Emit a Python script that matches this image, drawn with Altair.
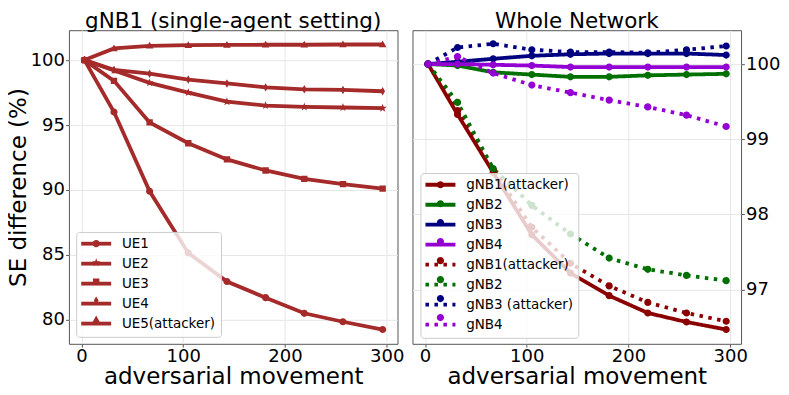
import altair as alt
import pandas as pd

# ---------------- data ----------------
x_vals = [3, 32, 67, 105, 143, 181, 219, 257, 296]

ue_labels = ["UE1", "UE2", "UE3", "UE4", "UE5(attacker)"]
ue1 = [100.0, 96.0, 89.9, 85.15, 82.95, 81.7, 80.5, 79.85, 79.25]
ue2 = [100.0, 99.2, 98.25, 97.5, 96.8, 96.5, 96.4, 96.35, 96.3]
ue3 = [100.0, 98.4, 95.2, 93.6, 92.35, 91.5, 90.85, 90.45, 90.1]
ue4 = [100.0, 99.25, 98.95, 98.5, 98.2, 97.9, 97.75, 97.7, 97.6]
ue5 = [100.0, 100.9, 101.1, 101.15, 101.17, 101.18, 101.18, 101.2, 101.2]

# legend labels (trailing spaces keep repeated names distinct)
gnb_labels = ["gNB1(attacker)", "gNB2", "gNB3", "gNB4",
              "gNB1(attacker) ", "gNB2 ", "gNB3 (attacker)", "gNB4 "]
gnb1_solid = [100.0, 99.33, 98.56, 97.73, 97.22, 96.92, 96.69, 96.57, 96.47]
gnb2_solid = [100.0, 99.98, 99.89, 99.86, 99.83, 99.83, 99.85, 99.86, 99.87]
gnb3_solid = [100.0, 100.03, 100.07, 100.11, 100.13, 100.14, 100.14, 100.14, 100.12]
gnb4_solid = [100.0, 100.0, 99.99, 99.98, 99.96, 99.96, 99.96, 99.96, 99.96]
gnb1_dot = [100.0, 99.38, 98.6, 97.83, 97.35, 97.05, 96.83, 96.69, 96.58]
gnb2_dot = [100.0, 99.49, 98.61, 98.12, 97.74, 97.42, 97.27, 97.19, 97.12]
gnb3_dot = [100.0, 100.22, 100.27, 100.19, 100.16, 100.16, 100.15, 100.19, 100.24]
gnb4_dot = [100.0, 100.1, 99.88, 99.72, 99.62, 99.52, 99.43, 99.32, 99.17]

x_ticks = [0, 100, 200, 300]
left_y_ticks = [80, 85, 90, 95, 100]
right_y_ticks = [97, 98, 99, 100]

# ---------------- styles ----------------
FONT = "DejaVu Sans"
BROWN = "#a52a2a"
gnb_colors = ["#8b0000", "#007000", "#000080", "#9400d3"] * 2
gnb_dashes = [[1, 0]] * 4 + [[3.5, 5.5]] * 4

INV = "M-4.2,0L4.2,0"  # invisible (unstroked) extent, keeps legend bounds equal
circle_p = "M0.9,0A0.9,0.9 0 1,1 -0.9,0A0.9,0.9 0 1,1 0.9,0Z"
star_p = ("M0,-1.1L0.265,-0.364L1.046,-0.34L0.428,0.139L0.647,0.89L0,0.45"
          "L-0.647,0.89L-0.428,0.139L-1.046,-0.34L-0.265,-0.364Z")
square_p = "M-0.8,-0.8H0.8V0.8H-0.8Z"
thin_diamond_p = "M0,-1.05L0.6,0L0,1.05L-0.6,0Z"
tri_up_p = "M0,-1L0.95,0.7L-0.95,0.7Z"
ue_markers = [INV + p for p in [circle_p, star_p, square_p, thin_diamond_p, tri_up_p]]
line_sym = "M-3.75,0L3.75,0"

# ---------------- tables ----------------
ue_series = [ue1, ue2, ue3, ue4, ue5]
left_rows = []
for i, (lab, ys) in enumerate(zip(ue_labels, ue_series)):
    for xv, yv in zip(x_vals, ys):
        left_rows.append({"x": xv, "y": yv, "ue": lab, "pk": f"p{i+1}"})
left_df = pd.DataFrame(left_rows)

gnb_series = [gnb1_solid, gnb2_solid, gnb3_solid, gnb4_solid,
              gnb1_dot, gnb2_dot, gnb3_dot, gnb4_dot]
right_rows = []
for i, (lab, ys) in enumerate(zip(gnb_labels, gnb_series)):
    for xv, yv in zip(x_vals, ys):
        right_rows.append({"x": xv, "y": yv, "key": lab, "pk": f"q{i+1}"})
right_df = pd.DataFrame(right_rows)

ue_pkeys = [f"p{i+1}" for i in range(5)]
gnb_pkeys = [f"q{i+1}" for i in range(8)]


def legend_a(lx, ly):
    return alt.Legend(orient="none", legendX=lx, legendY=ly, title=None,
                      symbolType=line_sym, symbolSize=64, symbolStrokeWidth=3.8,
                      symbolOffset=8.25, labelOffset=19,
                      labelFont=FONT, labelFontSize=13.5, labelColor="black",
                      fillColor="rgba(255,255,255,0.8)", strokeColor="#cccccc",
                      cornerRadius=3, padding=5, rowPadding=4, zindex=1)


def legend_b(lx, ly):
    return alt.Legend(orient="none", legendX=lx, legendY=ly, title=None,
                      symbolSize=64, symbolStrokeWidth=0, symbolOpacity=1,
                      symbolOffset=8.25, labelOffset=19, labelExpr="' '",
                      labelFont=FONT, labelFontSize=13.5, labelOpacity=0,
                      padding=5, rowPadding=4, zindex=2)


x_scale = alt.Scale(domain=[-12.3, 310.6], nice=False, zero=False)
x_axis = alt.Axis(values=x_ticks, title="adversarial movement", labelPadding=0.3)

title_common = dict(fontSize=21.5, font=FONT, fontWeight="normal", color="black",
                    baseline="alphabetic", offset=-19, anchor="middle")

# ---------------- left panel ----------------
ly = alt.Y("y:Q", scale=alt.Scale(domain=[78.15, 102.3], nice=False, zero=False),
           axis=alt.Axis(values=left_y_ticks, title="SE difference (%)", titlePadding=0))
lx = alt.X("x:Q", scale=x_scale, axis=x_axis)

left_lines = alt.Chart(left_df).mark_line(strokeWidth=3.8).encode(
    x=lx, y=ly,
    color=alt.Color("ue:N", scale=alt.Scale(domain=ue_labels, range=[BROWN] * 5),
                    legend=legend_a(7.3, 202)),
)
left_pts = alt.Chart(left_df).mark_point(filled=True, size=64, opacity=1, color=BROWN).encode(
    x=lx, y=ly,
    shape=alt.Shape("pk:N", scale=alt.Scale(domain=ue_pkeys, range=ue_markers),
                    legend=legend_b(7.3, 202)),
)
left = alt.layer(left_lines, left_pts).properties(
    width=329, height=314,
    title=alt.TitleParams("gNB1 (single-agent setting)", **title_common),
)

# ---------------- right panel ----------------
ry = alt.Y("y:Q", scale=alt.Scale(domain=[96.28, 100.45], nice=False, zero=False),
           axis=alt.Axis(values=right_y_ticks, title=None, orient="right"))
rx = alt.X("x:Q", scale=x_scale, axis=x_axis)

right_lines = alt.Chart(right_df).mark_line(strokeWidth=3.8).encode(
    x=rx, y=ry,
    color=alt.Color("key:N", scale=alt.Scale(domain=gnb_labels, range=gnb_colors),
                    legend=legend_a(8, 143)),
    strokeDash=alt.StrokeDash("key:N", scale=alt.Scale(domain=gnb_labels, range=gnb_dashes),
                              legend=legend_a(8, 143)),
)
right_pts = alt.Chart(right_df).mark_point(filled=True, size=64, opacity=1,
                                           shape=INV + circle_p).encode(
    x=rx, y=ry,
    fill=alt.Fill("pk:N", scale=alt.Scale(domain=gnb_pkeys, range=gnb_colors),
                  legend=legend_b(8, 143)),
)
right = alt.layer(right_lines, right_pts).properties(
    width=329, height=314,
    title=alt.TitleParams("Whole Network", **title_common),
)

chart = alt.hconcat(left, right, spacing=15, bounds="flush").resolve_scale(
    x="independent", y="independent", color="independent", shape="independent",
    fill="independent", strokeDash="independent",
).resolve_legend(
    color="independent", shape="independent", fill="independent", strokeDash="independent",
).properties(
    padding={"left": -2, "top": 2, "right": 0, "bottom": 0},
).configure_view(
    stroke="#555555", strokeWidth=1,
).configure_axis(
    labelFont=FONT, labelFontSize=18, labelColor="black",
    titleFont=FONT, titleFontSize=23, titleFontWeight="normal", titleColor="black",
    grid=True, gridColor="#e6e6e6", gridWidth=1, domain=False,
    tickColor="#555555", tickSize=3.3, tickWidth=1, labelPadding=1.2,
).configure_axisX(titlePadding=0)

chart.save("out.html", embed_options={"renderer": "svg", "actions": False})
